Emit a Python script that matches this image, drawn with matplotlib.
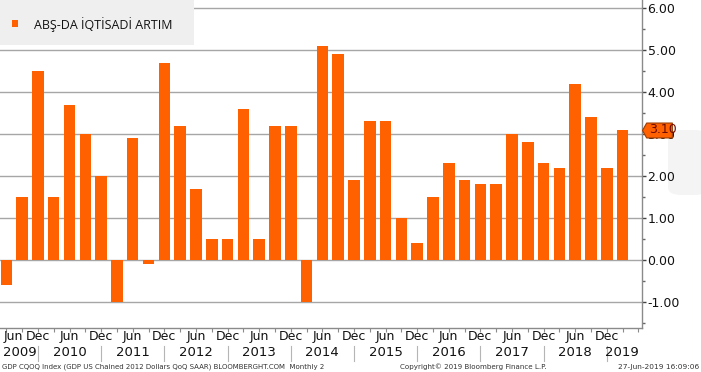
import matplotlib
matplotlib.use('Agg')
import matplotlib.pyplot as plt
from matplotlib.path import Path
from matplotlib.patches import Rectangle, FancyBboxPatch
import numpy as np

# ---------------- data ----------------
quarters = ['2009Q2', '2009Q3', '2009Q4',
            '2010Q1', '2010Q2', '2010Q3', '2010Q4',
            '2011Q1', '2011Q2', '2011Q3', '2011Q4',
            '2012Q1', '2012Q2', '2012Q3', '2012Q4',
            '2013Q1', '2013Q2', '2013Q3', '2013Q4',
            '2014Q1', '2014Q2', '2014Q3', '2014Q4',
            '2015Q1', '2015Q2', '2015Q3', '2015Q4',
            '2016Q1', '2016Q2', '2016Q3', '2016Q4',
            '2017Q1', '2017Q2', '2017Q3', '2017Q4',
            '2018Q1', '2018Q2', '2018Q3', '2018Q4',
            '2019Q1']
gdp_growth = [-0.6, 1.5, 4.5,
              1.5, 3.7, 3.0, 2.0,
              -1.0, 2.9, -0.1, 4.7,
              3.2, 1.7, 0.5, 0.5,
              3.6, 0.5, 3.2, 3.2,
              -1.0, 5.1, 4.9, 1.9,
              3.3, 3.3, 1.0, 0.4,
              1.5, 2.3, 1.9, 1.8,
              1.8, 3.0, 2.8, 2.3,
              2.2, 4.2, 3.4, 2.2,
              3.1]
years = ['2009', '2010', '2011', '2012', '2013', '2014', '2015', '2016', '2017', '2018', '2019']
y_ticks = [-1, 0, 1, 2, 3, 4, 5, 6]
series_name = 'ABŞ-DA İQTİSADİ ARTIM'
footer_left = 'GDP CQOQ Index (GDP US Chained 2012 Dollars QoQ SAAR) BLOOMBERGHT.COM  Monthly 2'
footer_mid = 'Copyright© 2019 Bloomberg Finance L.P.'
footer_right = '27-Jun-2019 16:09:06'

ORANGE = '#FF6000'
W, H = 701, 372

fig = plt.figure(figsize=(W / 100, H / 100), dpi=100)
fig.patch.set_facecolor('white')

# faint watermark blob at right (behind everything)
fig.patches.append(FancyBboxPatch((668 / W, 1 - 195 / H), 40 / W, 65 / H,
                                  boxstyle='round,pad=0,rounding_size=0.02',
                                  transform=fig.transFigure, facecolor='#f4f4f4',
                                  edgecolor='none', zorder=-5))

ax = fig.add_axes([0, 1 - 328 / H, 642 / W, 328 / H])
ax.patch.set_alpha(0)

x = np.arange(len(quarters))
ax.bar(x, gdp_growth, width=0.73, color=ORANGE, zorder=3)

ax.set_xlim(-0.4, 40.23)
ax.set_ylim(-1.62, 6.19)

# grid
ax.set_yticks(y_ticks)
ax.set_yticks(np.arange(-1.5, 6.01, 0.5), minor=True)
ax.yaxis.grid(True, which='major', color='#a6a6a6', lw=1.0, zorder=1)
ax.set_axisbelow(True)

# spines
for s in ['top', 'left']:
    ax.spines[s].set_visible(False)
for s in ['right', 'bottom']:
    ax.spines[s].set_color('#8a8a8a')
    ax.spines[s].set_linewidth(1.0)

ax.yaxis.tick_right()
ax.set_yticklabels(['%.2f' % v for v in y_ticks])
ax.tick_params(axis='y', which='major', direction='out', length=3, width=1,
               color='#444444', pad=1, labelsize=9, labelcolor='#111111')
ax.tick_params(axis='y', which='minor', direction='out', length=2, width=1,
               color='#666666')

# x ticks at every quarter (plus one beyond)
ax.set_xticks(np.arange(len(quarters) + 1))
ax.set_xticklabels([])
ax.tick_params(axis='x', which='major', direction='out', length=3, width=0.8,
               color='#8a8a8a')

# month labels & year labels
xt = ax.get_xaxis_transform()
for i, q in enumerate(quarters):
    qn = q[-1]
    if qn in ('2', '4'):
        lab = 'Jun' if qn == '2' else 'Dec'
        if i == 0:
            ax.text(-0.2, -0.027, lab, transform=xt, ha='left', va='center',
                    fontsize=9, color='#111111', clip_on=False)
        else:
            ax.text(i, -0.027, lab, transform=xt, ha='center', va='center',
                    fontsize=9, color='#111111', clip_on=False)
    if qn == '4':
        ax.plot([i, i], [-0.055, -0.1], transform=xt, color='#b5b5b5', lw=0.8,
                clip_on=False)

for k, yr in enumerate(years):
    i = 4 * k
    if k == 0:
        ha, xpos = 'left', -0.2
    elif k == len(years) - 1:
        ha, xpos = 'right', i
    else:
        ha, xpos = 'center', i
    ax.text(xpos, -0.076, yr, transform=xt, ha=ha, va='center',
            fontsize=9.5, color='#111111', clip_on=False)

# last value tag
tag = Path([(0, 0), (0.14, 0.25), (1, 0.25), (1, -0.25), (0.14, -0.25), (0, 0)],
           [Path.MOVETO, Path.LINETO, Path.LINETO, Path.LINETO, Path.LINETO, Path.CLOSEPOLY])
yt = ax.get_yaxis_transform()
ax.plot([1.0], [gdp_growth[-1]], transform=yt, marker=tag, markersize=43,
        markerfacecolor=ORANGE, markeredgecolor='#9c3a00', markeredgewidth=0.8,
        linestyle='none', clip_on=False, zorder=6)
ax.annotate('%.2f' % gdp_growth[-1], xy=(1.0, gdp_growth[-1]), xycoords=yt,
            xytext=(5, 0), textcoords='offset points', ha='left', va='center',
            fontsize=9, color='#6a0a00', zorder=7, annotation_clip=False)

# legend box
fig.patches.append(Rectangle((0, 1 - 45 / H), 194 / W, 45 / H, transform=fig.transFigure,
                             facecolor='#efefef', edgecolor='none', zorder=5))
fig.patches.append(Rectangle((12 / W, 1 - 27 / H), 6 / W, 7 / H, transform=fig.transFigure,
                             facecolor=ORANGE, edgecolor='none', zorder=6))
fig.text(34 / W, 1 - 25 / H, series_name, ha='left', va='center', fontsize=9,
         family='Open Sans', color='#111111', zorder=7)

# footer
fig.text(2 / W, 1 - 367 / H, footer_left, ha='left', va='center', fontsize=5.0,
         color='#333333')
fig.text(400 / W, 1 - 367 / H, footer_mid, ha='left', va='center', fontsize=5.1,
         color='#333333')
fig.text(699 / W, 1 - 367 / H, footer_right, ha='right', va='center', fontsize=5.3,
         color='#333333')

fig.savefig('out.png', dpi=100)
